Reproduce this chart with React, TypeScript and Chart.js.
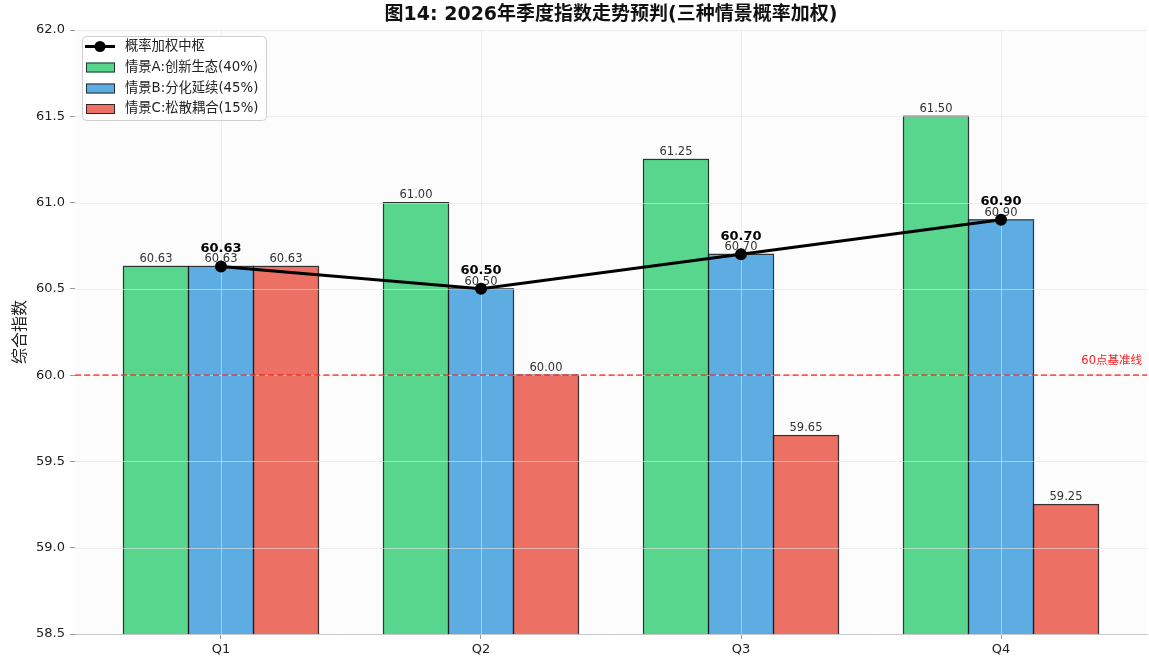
import { useEffect, useRef } from 'react';
import { Chart, registerables } from 'chart.js';

Chart.register(...registerables);

// Quarterly outlook for 2026 under three scenarios, plus the probability-weighted centre
const quarters = ['Q1', 'Q2', 'Q3', 'Q4'];
const scenarioA = [60.63, 61.0, 61.25, 61.5]; // 情景A:创新生态(40%)
const scenarioB = [60.63, 60.5, 60.7, 60.9]; // 情景B:分化延续(45%)
const scenarioC = [60.63, 60.0, 59.65, 59.25]; // 情景C:松散耦合(15%)
const weightedCentre = [60.63, 60.5, 60.7, 60.9]; // 概率加权中枢
const yTicks = [58.5, 59.0, 59.5, 60.0, 60.5, 61.0, 61.5, 62.0];
const baselineValue = 60;

const seriesLabels = ['情景A:创新生态(40%)', '情景B:分化延续(45%)', '情景C:松散耦合(15%)'];
const centreLabel = '概率加权中枢';
const baselineLabel = '60点基准线';
const titleText = '图14: 2026年季度指数走势预判(三种情景概率加权)';
const yTitle = '综合指数';

const FONT = "'DejaVu Sans', 'Noto Sans CJK SC', sans-serif";
const GREEN = '#58D68D';
const BLUE = '#5DADE2';
const RED = '#EC7063';
const EDGE = 'rgba(25,25,25,0.85)';

export default function App() {
  const ref = useRef<HTMLCanvasElement>(null);

  useEffect(() => {
    document.body.style.margin = '0';
    const canvas = ref.current;
    if (!canvas) return;
    const pts = (arr: number[]) => arr.map((y, i) => ({ x: i, y }));

    const overlay = {
      id: 'overlay',
      beforeDatasetsDraw(chart: any) {
        const { ctx, chartArea: a } = chart;
        ctx.save();
        ctx.fillStyle = '#fcfcfc';
        ctx.fillRect(a.left, a.top, a.right - a.left, a.bottom - a.top);
        ctx.restore();
      },
      beforeDatasetDraw(chart: any, args: any) {
        if (args.index !== 0) return;
        const { ctx, chartArea: a, scales } = chart;
        const x = scales.x;
        const y = scales.y;
        ctx.save();
        ctx.beginPath();
        ctx.rect(a.left, a.top, a.right - a.left, a.bottom - a.top);
        ctx.clip();

        // bar outlines, centred on the bar edges so neighbours share one line
        ctx.strokeStyle = EDGE;
        ctx.lineWidth = 1.2;
        [1, 2, 3].forEach((di) => {
          chart.getDatasetMeta(di).data.forEach((bar: any) => {
            const { x: bx, y: by, base, width } = bar.getProps(['x', 'y', 'base', 'width'], true);
            ctx.strokeRect(bx - width / 2, by, width, base - by + 2);
          });
        });

        // light grid above the bars
        ctx.strokeStyle = 'rgba(228,228,228,0.6)';
        ctx.lineWidth = 1;
        ctx.beginPath();
        yTicks.forEach((v) => {
          const py = Math.round(y.getPixelForValue(v)) + 0.5;
          ctx.moveTo(a.left, py);
          ctx.lineTo(a.right, py);
        });
        quarters.forEach((_, i) => {
          const px = Math.round(x.getPixelForValue(i)) + 0.5;
          ctx.moveTo(px, a.top);
          ctx.lineTo(px, a.bottom);
        });
        ctx.stroke();

        // bar value labels
        ctx.font = `11.5px ${FONT}`;
        ctx.fillStyle = '#333';
        ctx.textAlign = 'center';
        ctx.textBaseline = 'bottom';
        const sets = [scenarioA, scenarioB, scenarioC];
        [1, 2, 3].forEach((di, k) => {
          const meta = chart.getDatasetMeta(di);
          meta.data.forEach((bar: any, i: number) => {
            ctx.fillText(sets[k][i].toFixed(2), bar.x, bar.y - 1.5);
          });
        });

        // 60-point baseline
        const by = y.getPixelForValue(baselineValue);
        ctx.strokeStyle = 'rgba(255,20,20,0.7)';
        ctx.lineWidth = 1.6;
        ctx.setLineDash([6, 3.2]);
        ctx.beginPath();
        ctx.moveTo(a.left, by);
        ctx.lineTo(a.right, by);
        ctx.stroke();
        ctx.setLineDash([]);
        ctx.restore();
      },
      afterDatasetsDraw(chart: any) {
        const { ctx } = chart;
        const meta = chart.getDatasetMeta(0);
        ctx.save();
        ctx.font = `bold 13px ${FONT}`;
        ctx.fillStyle = '#000';
        ctx.textAlign = 'center';
        ctx.textBaseline = 'middle';
        meta.data.forEach((p: any, i: number) => {
          ctx.fillText(weightedCentre[i].toFixed(2), p.x, p.y - 18);
        });
        ctx.restore();
      },
      afterDraw(chart: any) {
        const { ctx, chartArea: a, scales } = chart;
        ctx.save();
        // title
        ctx.font = `bold 19px ${FONT}`;
        ctx.fillStyle = '#111';
        ctx.textAlign = 'center';
        ctx.textBaseline = 'middle';
        ctx.fillText(titleText, (a.left + a.right) / 2, 15);

        // y-axis title
        ctx.save();
        ctx.translate(21, (a.top + a.bottom) / 2);
        ctx.rotate(-Math.PI / 2);
        ctx.font = `16px ${FONT}`;
        ctx.fillStyle = '#222';
        ctx.fillText(yTitle, 0, 0);
        ctx.restore();

        // baseline label
        ctx.font = `11.5px ${FONT}`;
        ctx.fillStyle = '#ff1a1a';
        ctx.textAlign = 'right';
        ctx.fillText(baselineLabel, a.right - 5, scales.y.getPixelForValue(baselineValue) - 14);

        // legend
        const lx = 82;
        const ly = 36;
        const lw = 184;
        const lh = 84;
        ctx.beginPath();
        ctx.roundRect(lx + 0.5, ly + 0.5, lw, lh, 4);
        ctx.fillStyle = 'rgba(255,255,255,0.85)';
        ctx.fill();
        ctx.strokeStyle = '#d0d0d0';
        ctx.lineWidth = 1;
        ctx.stroke();

        const rows = [46.5, 67.5, 88.5, 109];
        ctx.textAlign = 'left';
        ctx.textBaseline = 'middle';
        ctx.font = `13.3px ${FONT}`;
        // line entry
        ctx.strokeStyle = '#000';
        ctx.lineWidth = 3;
        ctx.beginPath();
        ctx.moveTo(85, rows[0]);
        ctx.lineTo(115, rows[0]);
        ctx.stroke();
        ctx.beginPath();
        ctx.arc(100, rows[0], 5.5, 0, Math.PI * 2);
        ctx.fillStyle = '#000';
        ctx.fill();
        ctx.fillStyle = '#222';
        ctx.fillText(centreLabel, 125, rows[0]);
        // bar entries
        const colors = [GREEN, BLUE, RED];
        seriesLabels.forEach((t, i) => {
          const ry = rows[i + 1];
          ctx.fillStyle = colors[i];
          ctx.fillRect(86, ry - 5, 29, 10);
          ctx.strokeStyle = EDGE;
          ctx.lineWidth = 1;
          ctx.strokeRect(86.5, ry - 4.5, 28, 9);
          ctx.fillStyle = '#222';
          ctx.fillText(t, 125, ry);
        });
        ctx.restore();
      },
    };

    const barStyle = {
      type: 'bar' as const,
      borderWidth: 0,
      categoryPercentage: 0.75,
      barPercentage: 1.0,
      order: 1,
    };

    const chart = new Chart(canvas, {
      type: 'bar',
      data: {
        datasets: [
          {
            type: 'line',
            label: centreLabel,
            data: pts(weightedCentre),
            borderColor: '#000',
            borderWidth: 3,
            pointRadius: 6,
            pointBackgroundColor: '#000',
            pointBorderColor: '#000',
            pointBorderWidth: 0,
            tension: 0,
            order: 0,
          } as any,
          { ...barStyle, label: seriesLabels[0], data: pts(scenarioA), backgroundColor: GREEN },
          { ...barStyle, label: seriesLabels[1], data: pts(scenarioB), backgroundColor: BLUE },
          { ...barStyle, label: seriesLabels[2], data: pts(scenarioC), backgroundColor: RED },
        ],
      },
      options: {
        responsive: false,
        animation: false,
        layout: { autoPadding: false, padding: { top: 30, right: 2, left: 0, bottom: 0 } },
        plugins: {
          legend: { display: false },
          tooltip: { enabled: false },
          title: { display: false },
        },
        scales: {
          x: {
            type: 'linear',
            min: -0.5615,
            max: 3.5615,
            offset: false,
            afterBuildTicks: (axis: any) => {
              axis.ticks = quarters.map((_, i) => ({ value: i }));
            },
            afterFit: (s: any) => {
              s.height = 28;
              s.paddingLeft = 0;
              s.paddingRight = 0;
            },
            ticks: {
              callback: (v: any) => quarters[Math.round(Number(v))] ?? '',
              font: { family: FONT, size: 13 },
              color: '#222',
              padding: 3,
              maxRotation: 0,
              autoSkip: false,
            },
            grid: {
              display: true,
              offset: false,
              drawOnChartArea: false,
              drawTicks: true,
              tickLength: 5,
              color: '#999',
            },
            border: { display: true, color: '#c8c8c8', width: 1 },
          },
          y: {
            type: 'linear',
            min: 58.5,
            max: 62,
            afterBuildTicks: (axis: any) => {
              axis.ticks = yTicks.map((v) => ({ value: v }));
            },
            afterFit: (s: any) => {
              s.width = 75;
              s.paddingTop = 0;
              s.paddingBottom = 0;
            },
            ticks: {
              callback: (v: any) => Number(v).toFixed(1),
              font: { family: FONT, size: 13 },
              color: '#222',
              padding: 5,
            },
            grid: { display: true, drawOnChartArea: false, drawTicks: true, tickLength: 5, color: '#999' },
            border: { display: true, color: '#c8c8c8', width: 1 },
          },
        },
      } as any,
      plugins: [overlay],
    });

    return () => chart.destroy();
  }, []);

  return (
    <div style={{ width: 1149, height: 662 }}>
      <canvas ref={ref} width={1149} height={662} style={{ display: 'block' }} />
    </div>
  );
}
